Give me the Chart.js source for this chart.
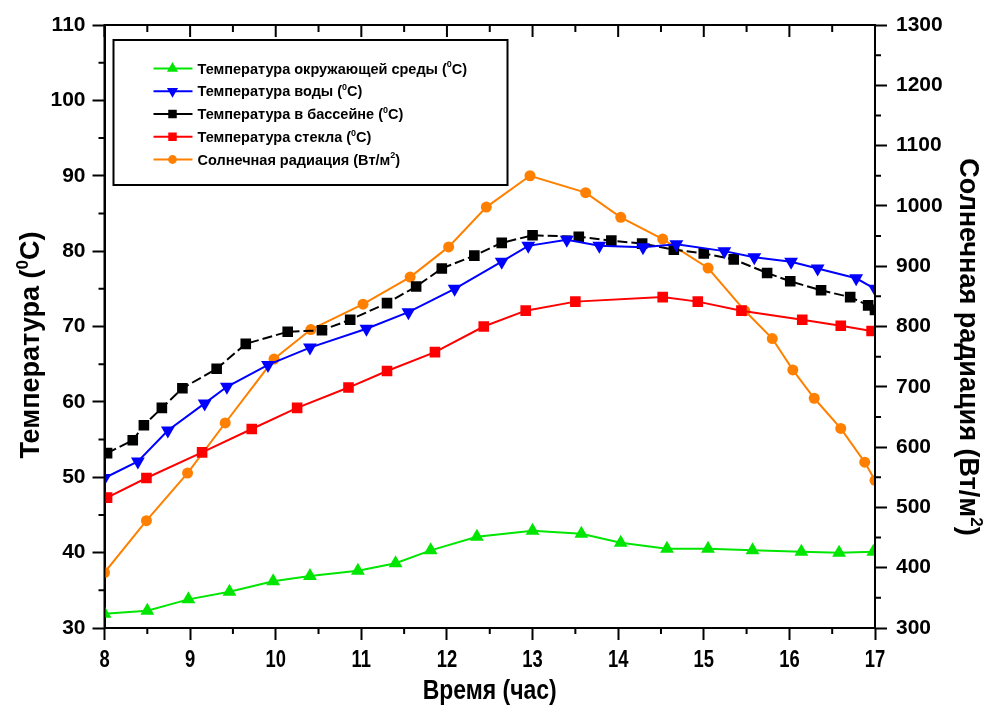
<!DOCTYPE html>
<html>
<head>
<meta charset="utf-8">
<script src="https://cdn.jsdelivr.net/npm/chart.js@4.4.1/dist/chart.umd.min.js"></script>
<style>
  html, body { margin: 0; padding: 0; background: #fff; }
</style>
</head>
<body>
<canvas id="chart" width="989" height="708"></canvas>
<script>
// hours (x) and values for every series
var ambientX = [8.0, 8.5, 8.98, 9.46, 9.97, 10.4, 10.96, 11.4, 11.81, 12.35, 13.0, 13.57, 14.03, 14.57, 15.05, 15.57, 16.14, 16.58, 16.98];
var ambientT = [31.9, 32.3, 33.8, 34.8, 36.2, 36.9, 37.6, 38.6, 40.3, 42.1, 42.9, 42.5, 41.3, 40.5, 40.5, 40.3, 40.1, 40.0, 40.1];

var waterX = [8.0, 8.39, 8.74, 9.17, 9.43, 9.91, 10.4, 11.06, 11.55, 12.09, 12.64, 12.95, 13.4, 13.78, 14.29, 14.68, 15.24, 15.59, 16.02, 16.33, 16.78, 17.0];
var waterT = [49.9, 52.1, 56.2, 59.8, 62.0, 64.9, 67.2, 69.7, 71.9, 75.0, 78.6, 80.7, 81.5, 80.7, 80.5, 80.9, 80.0, 79.2, 78.6, 77.7, 76.4, 75.0];

var poolX = [8.03, 8.33, 8.46, 8.67, 8.91, 9.31, 9.65, 10.14, 10.54, 10.87, 11.3, 11.64, 11.94, 12.32, 12.64, 13.0, 13.54, 13.92, 14.28, 14.65, 15.0, 15.35, 15.74, 16.01, 16.37, 16.71, 16.92, 17.0];
var poolT = [53.2, 54.9, 56.9, 59.2, 61.8, 64.4, 67.7, 69.3, 69.5, 70.9, 73.1, 75.3, 77.7, 79.4, 81.1, 82.1, 81.9, 81.4, 81.0, 80.2, 79.7, 78.9, 77.1, 76.0, 74.8, 73.9, 72.8, 72.2];

var glassX = [8.03, 8.49, 9.14, 9.72, 10.25, 10.85, 11.3, 11.86, 12.43, 12.92, 13.5, 14.52, 14.93, 15.44, 16.15, 16.6, 16.96];
var glassT = [47.3, 49.9, 53.3, 56.4, 59.2, 61.9, 64.1, 66.6, 70.0, 72.1, 73.3, 73.9, 73.3, 72.1, 70.9, 70.1, 69.4];

var solarX = [8.0, 8.49, 8.97, 9.41, 9.98, 10.41, 11.02, 11.57, 12.02, 12.46, 12.97, 13.62, 14.03, 14.52, 15.05, 15.48, 15.8, 16.04, 16.29, 16.6, 16.88, 17.0];
var solarW = [392, 478, 557, 640, 746, 795, 837, 882, 932, 998, 1050, 1022, 981, 945, 897, 826, 780, 728, 681, 631, 575, 545];

var hourTicks = [8, 9, 10, 11, 12, 13, 14, 15, 16, 17];

var seriesNames = [
  'Температура окружающей среды (^0C)',
  'Температура воды (^0C)',
  'Температура в бассейне (^0C)',
  'Температура стекла (^0C)',
  'Солнечная радиация (Вт/м^2)'
];

var xTitle = 'Время (час)';
var yTitle = 'Температура (^0C)';
var y2Title = 'Солнечная радиация (Вт/м^2)';

function pairs(xs, ys) {
  return xs.map(function (x, i) { return { x: x, y: ys[i] }; });
}

// draws text where ^ marks the next char as superscript
function drawRich(ctx, text, x, y, size, font, align) {
  var parts = [];
  text.split('^').forEach(function (seg, i) {
    if (i === 0) { parts.push({ t: seg, sup: false }); return; }
    parts.push({ t: seg.charAt(0), sup: true });
    parts.push({ t: seg.slice(1), sup: false });
  });
  var supSize = Math.round(size * 0.62);
  var w = 0;
  parts.forEach(function (p) {
    ctx.font = font.replace('SIZE', p.sup ? supSize : size);
    p.w = ctx.measureText(p.t).width;
    w += p.w;
  });
  var cx = align === 'center' ? x - w / 2 : x;
  ctx.textAlign = 'left';
  ctx.textBaseline = 'alphabetic';
  parts.forEach(function (p) {
    ctx.font = font.replace('SIZE', p.sup ? supSize : size);
    ctx.fillText(p.t, cx, p.sup ? y - size * 0.42 : y);
    cx += p.w;
  });
  return w;
}

var BOLD = 'bold SIZEpx "Liberation Sans", Arial, sans-serif';

var frame = {
  id: 'frame',
  afterDatasetsDraw: function (chart) {
    var ctx = chart.ctx, a = chart.chartArea;
    var xs = chart.scales.x, ys = chart.scales.y, y2 = chart.scales.y2;
    ctx.save();
    ctx.strokeStyle = '#000';
    ctx.lineWidth = 2;
    ctx.beginPath();
    ctx.rect(a.left, a.top, a.right - a.left, a.bottom - a.top);
    ctx.stroke();
    ctx.beginPath();
    var v, p;
    // x: minor ticks below, all ticks on top pointing in
    for (v = 8; v <= 17; v += 0.5) {
      p = xs.getPixelForValue(v);
      var major = v % 1 === 0;
      if (!major) { ctx.moveTo(p, a.bottom); ctx.lineTo(p, a.bottom + 6); }
      ctx.moveTo(p, a.top); ctx.lineTo(p, a.top + (major ? 12 : 7));
    }
    for (v = 35; v < 110; v += 10) {
      p = ys.getPixelForValue(v);
      ctx.moveTo(a.left, p); ctx.lineTo(a.left - 6, p);
    }
    for (v = 350; v < 1300; v += 100) {
      p = y2.getPixelForValue(v);
      ctx.moveTo(a.right, p); ctx.lineTo(a.right + 6, p);
    }
    ctx.stroke();

    // x tick labels in a condensed face
    ctx.fillStyle = '#000';
    hourTicks.forEach(function (h) {
      ctx.save();
      ctx.translate(xs.getPixelForValue(h), 667);
      ctx.scale(0.8, 1);
      drawRich(ctx, String(h), 0, 0, 23, BOLD, 'center');
      ctx.restore();
    });

    // legend box
    var lx = a.left + 9, ly = a.top + 15, lw = 394, lh = 145;
    ctx.fillStyle = '#fff';
    ctx.fillRect(lx, ly, lw, lh);
    ctx.strokeRect(lx, ly, lw, lh);
    chart.data.datasets.forEach(function (ds, i) {
      var ry = ly + 28.5 + i * 22.75;
      ctx.strokeStyle = ds.borderColor;
      ctx.lineWidth = 2;
      ctx.setLineDash([]);
      ctx.beginPath();
      ctx.moveTo(lx + 40, ry); ctx.lineTo(lx + 79, ry);
      ctx.stroke();
      ctx.fillStyle = ds.pointBackgroundColor;
      ctx.strokeStyle = ds.pointBackgroundColor;
      Chart.helpers.drawPoint(ctx, {
        pointStyle: ds.pointStyle, radius: ds.pointRadius * 0.8,
        rotation: ds.pointRotation || 0, borderWidth: 0
      }, lx + 59, ry);
      ctx.fillStyle = '#000';
      drawRich(ctx, seriesNames[i], lx + 84, ry + 5, 14.5, BOLD, 'left');
    });

    // axis titles
    ctx.fillStyle = '#000';
    ctx.save();
    ctx.translate((a.left + a.right) / 2, 699);
    ctx.scale(0.82, 1);
    drawRich(ctx, xTitle, 0, 0, 28, BOLD, 'center');
    ctx.restore();
    ctx.save();
    ctx.translate(39, 345);
    ctx.rotate(-Math.PI / 2);
    drawRich(ctx, yTitle, 0, 0, 27, BOLD, 'center');
    ctx.restore();
    ctx.save();
    ctx.translate(960, 347);
    ctx.rotate(Math.PI / 2);
    drawRich(ctx, y2Title, 0, 0, 27, BOLD, 'center');
    ctx.restore();
    ctx.restore();
  }
};

function lineSet(data, color, style, radius, rotation, axis, dash) {
  return {
    data: data,
    yAxisID: axis,
    borderColor: color,
    backgroundColor: color,
    pointBackgroundColor: color,
    pointBorderColor: color,
    pointBorderWidth: 0,
    pointStyle: style,
    pointRadius: radius,
    pointHoverRadius: radius,
    pointRotation: rotation,
    borderWidth: 2,
    borderDash: dash || [],
    tension: 0,
    fill: false,
    clip: 0
  };
}

var tickFont = { family: '"Liberation Sans", Arial, sans-serif', size: 21, weight: 'bold' };
var axisGrid = { drawOnChartArea: false, drawTicks: true, tickLength: 12, tickWidth: 2, tickColor: '#000' };
var axisBorder = { display: true, color: '#000', width: 2 };
var plain = function (v) { return String(v); };

new Chart(document.getElementById('chart'), {
  type: 'line',
  data: {
    datasets: [
      lineSet(pairs(ambientX, ambientT), '#00E600', 'triangle', 8, 0, 'y'),
      lineSet(pairs(waterX, waterT), '#0000FF', 'triangle', 8, 180, 'y'),
      lineSet(pairs(poolX, poolT), '#000000', 'rect', 7.5, 0, 'y', [10, 4]),
      lineSet(pairs(glassX, glassT), '#FF0000', 'rect', 7.5, 0, 'y'),
      lineSet(pairs(solarX, solarW), '#FF8000', 'circle', 5.5, 0, 'y2')
    ]
  },
  options: {
    responsive: false,
    animation: false,
    layout: { padding: { top: 25, left: 0, right: 0, bottom: 0 } },
    plugins: { legend: { display: false }, tooltip: { enabled: false } },
    scales: {
      x: {
        type: 'linear', min: 8, max: 17,
        ticks: { stepSize: 1, display: false },
        grid: axisGrid, border: axisBorder,
        afterFit: function (s) { s.height = 80; }
      },
      y: {
        position: 'left', min: 30, max: 110,
        ticks: { stepSize: 10, color: '#000', padding: 7, font: tickFont, callback: plain },
        grid: axisGrid, border: axisBorder,
        afterFit: function (s) { s.width = 104.5; }
      },
      y2: {
        position: 'right', min: 300, max: 1300,
        ticks: { stepSize: 100, color: '#000', padding: 9, font: tickFont, callback: plain },
        grid: axisGrid, border: axisBorder,
        afterFit: function (s) { s.width = 114; }
      }
    }
  },
  plugins: [frame]
});
</script>
</body>
</html>
